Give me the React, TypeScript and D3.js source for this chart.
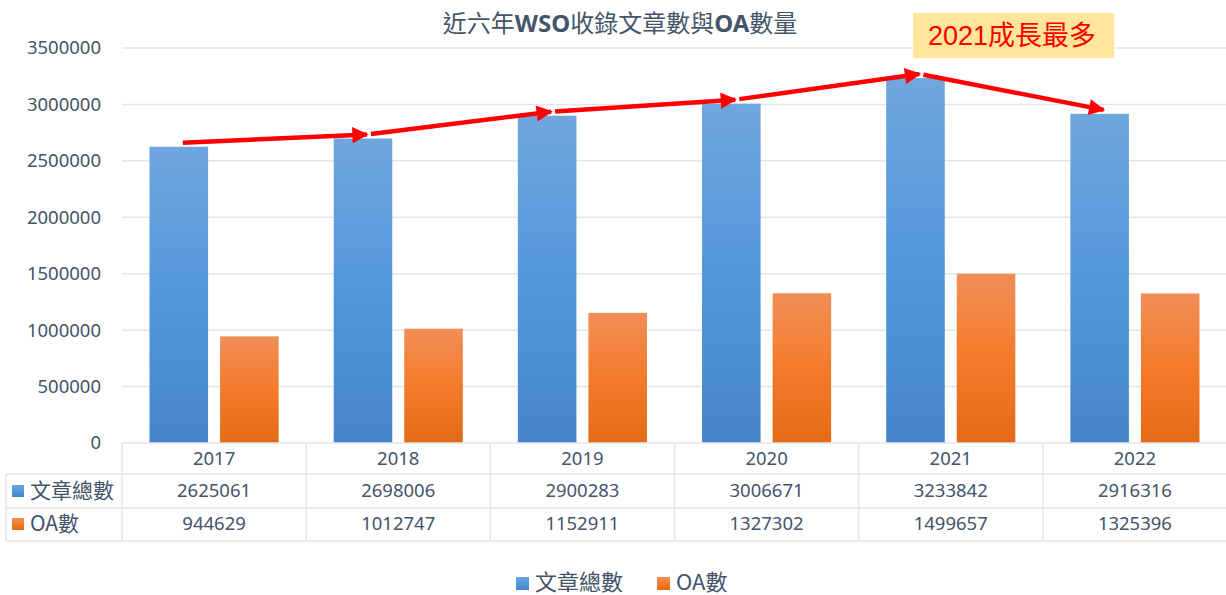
import React from 'react';
import * as d3 from 'd3';

// data
const years = ['2017', '2018', '2019', '2020', '2021', '2022'];
const articles = [2625061, 2698006, 2900283, 3006671, 3233842, 2916316];
const oaCounts = [944629, 1012747, 1152911, 1327302, 1499657, 1325396];
const seriesNames = ['文章總數', 'OA數'];
const yTicks = [0, 500000, 1000000, 1500000, 2000000, 2500000, 3000000, 3500000];
const noteText = '2021成長最多';

const W = 1226;
const H = 595;
const LAT = '"Noto Sans", "Noto Sans CJK TC", sans-serif';
const CJK = '"Noto Sans CJK TC", "Noto Sans", sans-serif';
const TXT = '#44546A';
const GRID = '#E2E5EB';

export default function App() {
  const left = 122;
  const right = 1227;
  const x = d3.scaleBand<string>().domain(years).range([left, right]);
  const inner = d3.scaleBand<string>()
    .domain(seriesNames)
    .range([0, x.bandwidth()])
    .paddingInner(0.17)
    .paddingOuter(0.39);
  const y = d3.scaleLinear().domain([0, 3500000]).range([443, 48]);

  const rows = [articles, oaCounts];
  const rowMid = [491, 524];
  const tableTop = 443;
  const tableLines = [443, 474, 508, 541];

  // arrow points sit just above each blue bar
  const pts = years.map((yr, i) => [
    x(yr)! + inner(seriesNames[0])! + inner.bandwidth() / 2 + 4,
    y(articles[i]) - 4,
  ]);

  return (
    <svg width={W} height={H} style={{ position: 'absolute', left: 0, top: 0 }}>
      <defs>
        <linearGradient id="gBlue" x1="0" y1="0" x2="0" y2="1">
          <stop offset="0" stopColor="#6FA6DD" />
          <stop offset="0.5" stopColor="#5297DB" />
          <stop offset="1" stopColor="#4586C9" />
        </linearGradient>
        <linearGradient id="gOrange" x1="0" y1="0" x2="0" y2="1">
          <stop offset="0" stopColor="#F18E57" />
          <stop offset="0.5" stopColor="#F47B2A" />
          <stop offset="1" stopColor="#E36A16" />
        </linearGradient>
        <marker id="arr" viewBox="0 0 10 10" refX="9" refY="5" markerWidth="4.5" markerHeight="3.6"
          markerUnits="strokeWidth" orient="auto">
          <path d="M0,0 L10,5 L0,10 z" fill="#FF0000" />
        </marker>
      </defs>
      <rect width={W} height={H} fill="#fff" />

      {/* title */}
      <text x={620} y={32} textAnchor="middle" fontSize={24} fill={TXT} fontFamily={CJK}>
        近六年<tspan fontWeight="bold" fontFamily={LAT}>WSO</tspan>收錄文章數與
        <tspan fontWeight="bold" fontFamily={LAT}>OA</tspan>數量
      </text>

      {/* gridlines + y labels */}
      {yTicks.map(t => (
        <g key={t}>
          {t > 0 && <line x1={left} x2={W} y1={y(t)} y2={y(t)} stroke={GRID} strokeWidth={1.5} />}
          <text x={101} y={y(t)} dy="0.35em" textAnchor="end" fontSize={18.5} fill={TXT} fontFamily={LAT}>
            {t}
          </text>
        </g>
      ))}

      {/* bars */}
      {years.map((yr, i) => (
        <g key={yr}>
          {rows.map((r, s) => (
            <rect
              key={s}
              x={x(yr)! + inner(seriesNames[s])!}
              y={y(r[i])}
              width={inner.bandwidth()}
              height={y(0) - y(r[i])}
              fill={s === 0 ? 'url(#gBlue)' : 'url(#gOrange)'}
            />
          ))}
        </g>
      ))}

      {/* data table */}
      {tableLines.map((ly, i) => (
        <line key={ly} x1={i === 0 ? left : 6} x2={W} y1={ly} y2={ly} stroke={GRID} strokeWidth={1.5} />
      ))}
      <line x1={6} x2={6} y1={474} y2={541} stroke={GRID} strokeWidth={1.5} />
      {years.map(yr => (
        <line key={yr} x1={x(yr)} x2={x(yr)} y1={tableTop} y2={541} stroke={GRID} strokeWidth={1.5} />
      ))}
      {years.map((yr, i) => (
        <g key={yr}>
          <text x={x(yr)! + x.bandwidth() / 2} y={459} dy="0.35em" textAnchor="middle" fontSize={18.5}
            fill={TXT} fontFamily={LAT}>{yr}</text>
          {rows.map((r, s) => (
            <text key={s} x={x(yr)! + x.bandwidth() / 2} y={rowMid[s]} dy="0.35em" textAnchor="middle"
              fontSize={18.5} fill={TXT} fontFamily={LAT}>{r[i]}</text>
          ))}
        </g>
      ))}
      {seriesNames.map((n, s) => (
        <g key={n}>
          <rect x={12} y={rowMid[s] - 6} width={12} height={12} fill={s === 0 ? 'url(#gBlue)' : 'url(#gOrange)'} />
          <text x={30} y={rowMid[s]} dy="0.35em" fontSize={21} fill={TXT} fontFamily={CJK}>{n}</text>
        </g>
      ))}

      {/* red trend arrows */}
      {pts.slice(1).map((p, i) => {
        const a = pts[i];
        const dx = p[0] - a[0];
        const dy = p[1] - a[1];
        const len = Math.hypot(dx, dy);
        const gap = i === 0 ? 0 : 4;
        return (
          <line
            key={i}
            x1={a[0] + (dx / len) * gap}
            y1={a[1] + (dy / len) * gap}
            x2={p[0]}
            y2={p[1]}
            stroke="#FF0000"
            strokeWidth={4.5}
            markerEnd="url(#arr)"
          />
        );
      })}

      {/* annotation */}
      <rect x={913} y={13} width={201} height={45} fill="#FFE699" />
      <text x={1012} y={36} dy="0.35em" textAnchor="middle" fontSize={27} fill="#FF0000"
        fontFamily='"Liberation Sans", "Noto Sans CJK TC", sans-serif'>
        {noteText}
      </text>

      {/* legend */}
      {seriesNames.map((n, s) => {
        const lx = s === 0 ? 516 : 657;
        return (
          <g key={n}>
            <rect x={lx} y={577} width={13} height={13} fill={s === 0 ? 'url(#gBlue)' : 'url(#gOrange)'} />
            <text x={lx + 19} y={582} dy="0.35em" fontSize={22} fill={TXT} fontFamily={CJK}>{n}</text>
          </g>
        );
      })}
    </svg>
  );
}
